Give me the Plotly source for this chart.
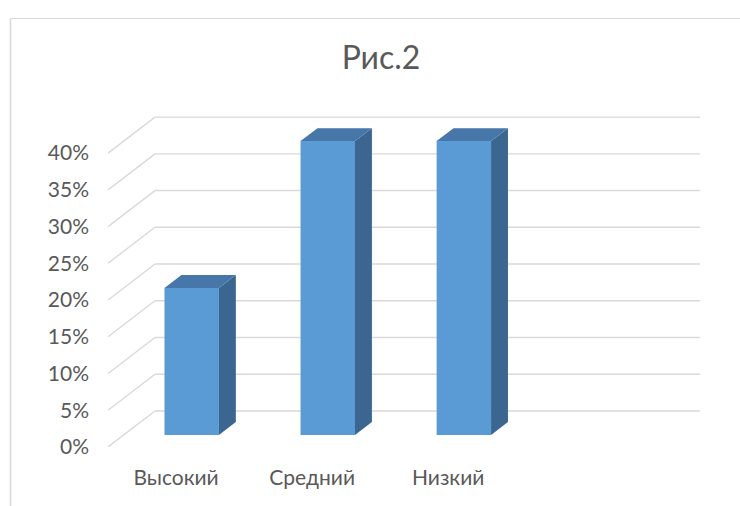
import plotly.graph_objects as go

# ---- data ----
categories = ["Высокий", "Средний", "Низкий"]
values = [0.20, 0.40, 0.40]
y_tick_vals = [0.0, 0.05, 0.10, 0.15, 0.20, 0.25, 0.30, 0.35, 0.40]
y_tick_text = ["0%", "5%", "10%", "15%", "20%", "25%", "30%", "35%", "40%"]
title_text = "Рис.2"

# ---- layout geometry (style) ----
W, H = 740, 506
ML, MR, MT, MB = 108, 36, 109, 59
X0, X1 = -0.5, 3.88
Y0, Y1 = 0.0, 0.46
XPX = (W - ML - MR) / (X1 - X0)
YPX = (H - MT - MB) / (Y1 - Y0)
DX = 47 / XPX          # full floor depth (oblique projection), data units
DY = 36 / YPX
WALL_END = (700 - ML) / XPX + X0
BAR_W = 0.4
F1 = 1 / 3             # depth fraction of bar front face
FB = 0.36              # bar depth fraction

FONT = "Lato, 'Open Sans', sans-serif"
TXT = "#595959"
GRID = "#D9D9D9"
FRONT = "#5B9BD5"
SIDE = "#3A6690"
TOP = "#4777A8"

fig = go.Figure()

shapes = []
# gridlines: side-wall slant + back wall
for v in y_tick_vals:
    shapes.append(dict(type="line", xref="x", yref="y", layer="below",
                       x0=X0, y0=v, x1=X0 + DX, y1=v + DY,
                       line=dict(color=GRID, width=1.4)))
    shapes.append(dict(type="line", xref="x", yref="y", layer="below",
                       x0=X0 + DX, y0=v + DY, x1=WALL_END, y1=v + DY,
                       line=dict(color=GRID, width=1.4)))

# chart border (outer frame)
pw = W - ML - MR
ph = H - MT - MB
def px_to_paper_x(px):
    return (px - ML) / pw
def py_to_paper_y(py):
    return (H - MB - py) / ph
shapes.append(dict(type="line", xref="paper", yref="paper",
                   x0=px_to_paper_x(10.5), y0=py_to_paper_y(18.5),
                   x1=px_to_paper_x(745), y1=py_to_paper_y(18.5),
                   line=dict(color=GRID, width=1.2)))
shapes.append(dict(type="line", xref="paper", yref="paper",
                   x0=px_to_paper_x(10.5), y0=py_to_paper_y(18.5),
                   x1=px_to_paper_x(10.5), y1=py_to_paper_y(520),
                   line=dict(color=GRID, width=1.6)))

# bars: front faces
bx = [i + F1 * DX for i in range(len(categories))]
base = F1 * DY
fig.add_trace(go.Bar(x=bx, y=values, base=[base] * len(values), width=BAR_W,
                     marker=dict(color=FRONT, line=dict(width=0)),
                     hoverinfo="skip", showlegend=False))

ddx, ddy = FB * DX, FB * DY
sx, sy, tx, ty = [], [], [], []
for c, v in zip(bx, values):
    xl, xr = c - BAR_W / 2, c + BAR_W / 2
    top = base + v
    sx += [xr, xr, xr + ddx, xr + ddx, xr, None]
    sy += [base, top, top + ddy, base + ddy, base, None]
    tx += [xl, xr, xr + ddx, xl + ddx, xl, None]
    ty += [top, top, top + ddy, top + ddy, top, None]
fig.add_trace(go.Scatter(x=sx, y=sy, mode="lines", fill="toself", fillcolor=SIDE,
                         line=dict(width=0, color=SIDE), hoverinfo="skip", showlegend=False))
fig.add_trace(go.Scatter(x=tx, y=ty, mode="lines", fill="toself", fillcolor=TOP,
                         line=dict(width=0, color=TOP), hoverinfo="skip", showlegend=False))

fig.update_layout(
    width=W, height=H,
    margin=dict(l=ML, r=MR, t=MT, b=MB),
    paper_bgcolor="white", plot_bgcolor="white",
    shapes=shapes,
    showlegend=False,
    title=dict(text=title_text, xref="container", yref="container",
               x=381 / W, xanchor="center", y=1 - 58 / H, yanchor="middle",
               font=dict(family=FONT, size=32, color=TXT)),
    xaxis=dict(range=[X0, X1], tickmode="array",
               tickvals=list(range(len(categories))), ticktext=categories,
               showgrid=False, zeroline=False, showline=False, ticks="",
               ticklabelstandoff=16,
               tickfont=dict(family=FONT, size=21, color=TXT)),
    yaxis=dict(range=[Y0, Y1], tickmode="array", tickvals=y_tick_vals,
               ticktext=y_tick_text, showgrid=False, zeroline=False,
               showline=False, ticks="", ticklabelstandoff=18,
               tickfont=dict(family=FONT, size=21, color=TXT)),
)

fig.write_html("out.html")
